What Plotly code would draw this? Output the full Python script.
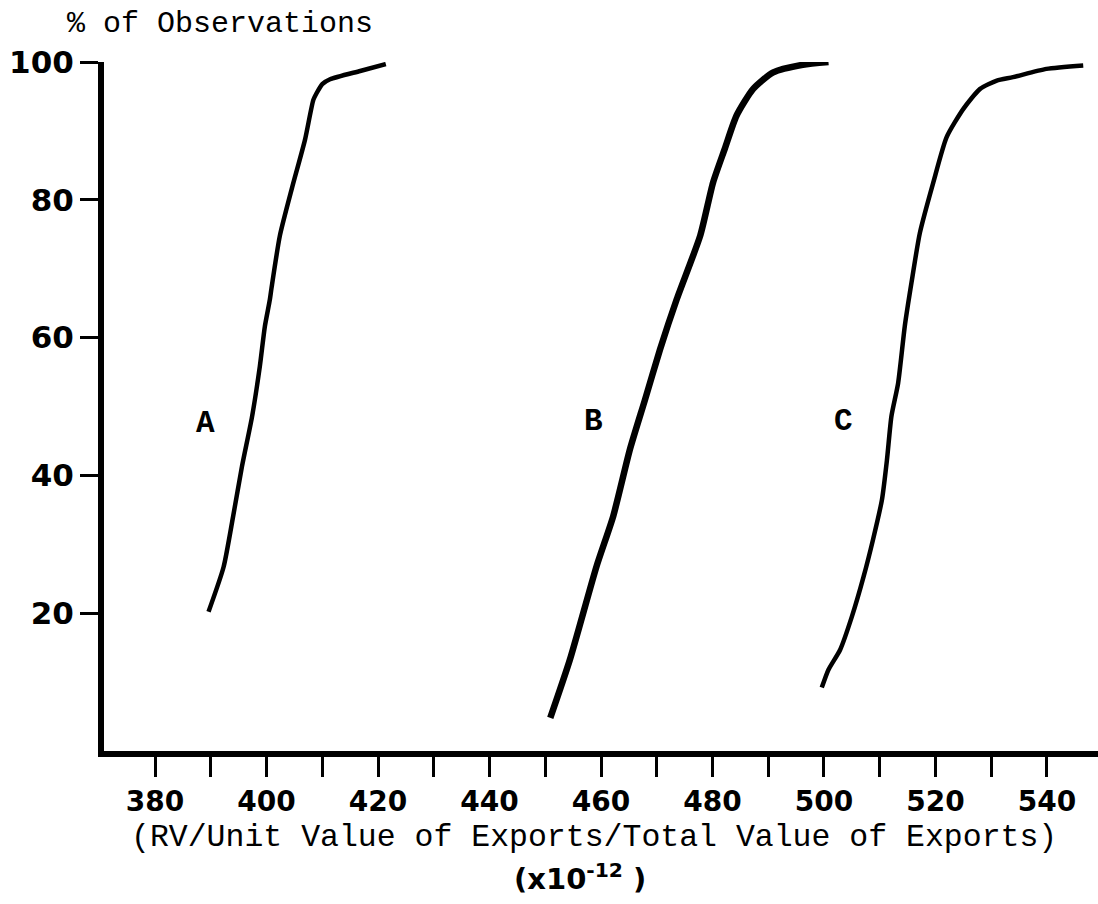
import plotly.graph_objects as go

# ---- data ----
a_x = [389.6, 392.3, 394.0, 395.6, 397.4, 398.8, 399.7, 400.6, 400.9, 402.4, 404.6, 406.9, 408.4, 409.0, 410.0, 411.4, 416.8, 421.4]
a_y = [20.2, 26.7, 34.0, 41.3, 48.5, 55.8, 61.6, 65.5, 67.2, 74.8, 81.8, 88.7, 94.5, 95.5, 96.8, 97.5, 98.7, 99.7]

b_x = [450.9, 454.4, 459.2, 462.2, 465.2, 467.9, 470.6, 473.6, 477.8, 480.1, 482.2, 484.3, 487.3, 490.9, 496.2, 500.8]
b_y = [4.8, 13.2, 26.8, 34.1, 43.8, 51.0, 58.3, 65.6, 74.8, 82.5, 87.4, 92.2, 96.1, 98.5, 99.6, 100.0]

c_x = [499.6, 500.8, 502.9, 505.0, 507.1, 508.8, 510.4, 511.3, 512.1, 513.3, 514.5, 515.7, 517.2, 519.6, 522.0, 525.0, 528.0, 531.0, 533.9, 539.9, 546.5]
c_y = [9.2, 11.8, 14.7, 19.5, 25.3, 30.7, 36.5, 42.3, 48.6, 53.4, 61.7, 68.0, 75.2, 82.5, 89.1, 93.2, 96.1, 97.3, 97.8, 99.0, 99.5]

curve_labels = ["A", "B", "C"]
label_x = [389.0, 458.7, 503.5]
label_y = [47.5, 47.8, 47.8]

x_tickvals = [380, 400, 420, 440, 460, 480, 500, 520, 540]
x_ticktext = ["380", "400", "420", "440", "460", "480", "500", "520", "540"]
y_tickvals = [20, 40, 60, 80, 100]
y_ticktext = ["20", "40", "60", "80", "100"]

y_title = "% of Observations"
x_title = "(RV/Unit Value of Exports/Total Value of Exports)"
x_scale = "(x10<sup>-12</sup> )"

fig = go.Figure()
for xs, ys, w in [(a_x, a_y, 4.5), (b_x, b_y, 6.5), (c_x, c_y, 4.5)]:
    fig.add_trace(go.Scatter(x=xs, y=ys, mode="lines",
                             line=dict(color="black", width=w, shape="spline", smoothing=0.6),
                             cliponaxis=False, showlegend=False, hoverinfo="skip"))

for t, lx, ly in zip(curve_labels, label_x, label_y):
    fig.add_annotation(x=lx, y=ly, text=t, showarrow=False,
                       font=dict(family="Liberation Mono", size=31, color="black", weight="bold"),
                       xanchor="center", yanchor="middle")

fig.add_annotation(xref="paper", yref="paper", x=(65 - 104) / 994, y=1 + (62 - 24) / 688,
                   text=y_title, showarrow=False, xanchor="left", yanchor="middle",
                   font=dict(family="Liberation Mono", size=30, color="black"))
fig.add_annotation(xref="paper", yref="paper", x=(594 - 104) / 994, y=-(836 - 750) / 688,
                   text=x_title, showarrow=False, xanchor="center", yanchor="middle",
                   font=dict(family="Liberation Mono", size=31.5, color="black"))
fig.add_annotation(xref="paper", yref="paper", x=(580 - 104) / 994, y=-(876 - 750) / 688,
                   text=x_scale, showarrow=False, xanchor="center", yanchor="middle",
                   font=dict(family="DejaVu Sans", size=29, color="black", weight="bold"))

fig.update_xaxes(range=[370.85, 549.15], showgrid=False, zeroline=False,
                 showline=True, linewidth=6, linecolor="black",
                 ticks="outside", ticklen=20, tickwidth=3, tickcolor="black",
                 tickvals=x_tickvals, ticktext=x_ticktext,
                 minor=dict(tickvals=list(range(390, 550, 20)), ticks="outside", ticklen=20,
                            tickwidth=3, tickcolor="black", showgrid=False),
                 tickfont=dict(family="DejaVu Sans", size=28, color="black", weight="bold"))
fig.update_yaxes(range=[0, 100], showgrid=False, zeroline=False,
                 showline=True, linewidth=6, linecolor="black",
                 ticks="outside", ticklen=18, tickwidth=3, tickcolor="black",
                 tickvals=y_tickvals, ticktext=y_ticktext,
                 tickfont=dict(family="DejaVu Sans", size=31, color="black", weight="bold"))

fig.update_layout(width=1098, height=904, margin=dict(l=104, r=0, t=62, b=153),
                  paper_bgcolor="white", plot_bgcolor="white", showlegend=False)

fig.write_html("out.html")
